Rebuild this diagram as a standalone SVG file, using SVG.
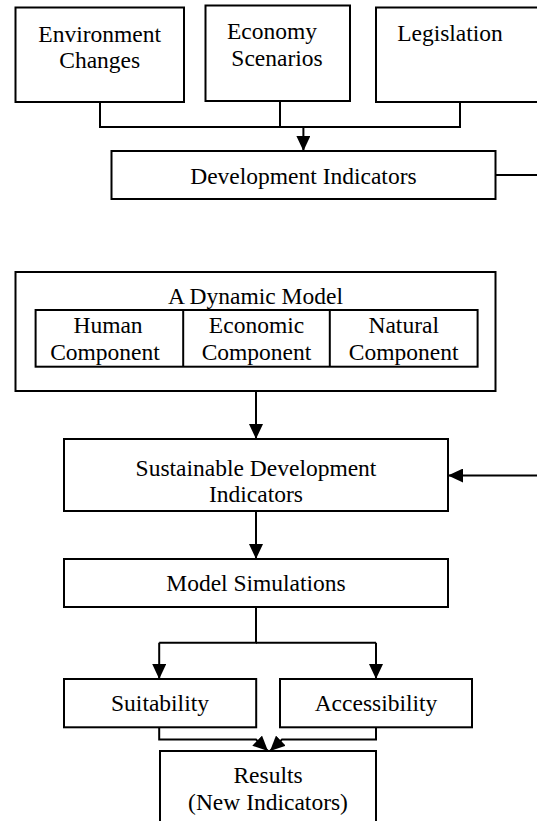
<svg xmlns="http://www.w3.org/2000/svg" width="537" height="821" viewBox="0 0 537 821" font-family="Liberation Serif, DejaVu Serif, serif">
<defs>
<style>
.box{fill:#fff;stroke:#000;stroke-width:2}
.t{font-family:'Liberation Serif','DejaVu Serif',serif;font-size:23.5px;fill:#000;text-anchor:middle}
.c{fill:none;stroke:#000;stroke-width:2}
.a{fill:none;stroke:#000;stroke-width:2;marker-end:url(#ah)}
</style>
<marker id="ah" markerUnits="userSpaceOnUse" markerWidth="16" markerHeight="14" refX="15" refY="7" orient="auto">
<path d="M0,0 L15,7 L0,14 Z" fill="#000"/>
</marker>
</defs>
<rect width="537" height="821" fill="#fff"/>

<g id="connectors">
<path class="c" d="M100,102 V127 H460 V102"/>
<path class="c" d="M280,101 V127"/>
<path class="a" d="M303.4,127 V151"/>
<path class="a" d="M495.5,175 H545 V475.5 H448"/>
<path class="a" d="M256,391 V439"/>
<path class="a" d="M256,511 V559"/>
<path class="c" d="M256,607 V642.7 H159.2"/>
<path class="c" d="M256,642.7 H376"/>
<path class="a" d="M159.2,642.7 V679"/>
<path class="a" d="M376,642.7 V679"/>
<path class="a" d="M159.2,727.3 V739.5 H256 L268,751"/>
<path class="a" d="M376,727.3 V739.5 H282 L270,751"/>
</g>

<g id="environment">
<rect class="box" x="15.5" y="7.5" width="168.5" height="94.5"/>
<text class="t" x="99.7" y="41.7">Environment</text>
<text class="t" x="99.7" y="68.3">Changes</text>
</g>
<g id="economy">
<rect class="box" x="205.5" y="5.5" width="144.5" height="95.5"/>
<text class="t" x="272" y="39">Economy</text>
<text class="t" x="277" y="65.5">Scenarios</text>
</g>
<g id="legislation">
<rect class="box" x="376" y="7.5" width="180" height="94.5"/>
<text class="t" x="450" y="40.5">Legislation</text>
</g>
<g id="development">
<rect class="box" x="111.5" y="151" width="384" height="48"/>
<text class="t" x="303.4" y="183.5">Development Indicators</text>
</g>

<g id="dynamic-model">
<rect class="box" x="15.5" y="272" width="480" height="119"/>
<text class="t" x="255.5" y="304.3">A Dynamic Model</text>
<rect class="box" x="35.6" y="310" width="442" height="56.7"/>
<line class="c" x1="183.2" y1="310" x2="183.2" y2="366.7"/>
<line class="c" x1="329.8" y1="310" x2="329.8" y2="366.7"/>
</g>
<g id="human">
<text class="t" x="108" y="332.7">Human</text>
<text class="t" x="105" y="360">Component</text>
</g>
<g id="economic">
<text class="t" x="256.5" y="332.7">Economic</text>
<text class="t" x="256.5" y="360">Component</text>
</g>
<g id="natural">
<text class="t" x="403.7" y="332.7">Natural</text>
<text class="t" x="403.7" y="360">Component</text>
</g>

<g id="sustainable">
<rect class="box" x="64" y="439" width="384" height="72"/>
<text class="t" x="256" y="475.7">Sustainable Development</text>
<text class="t" x="256" y="501.7">Indicators</text>
</g>
<g id="simulations">
<rect class="box" x="64" y="559" width="384" height="48"/>
<text class="t" x="256" y="591">Model Simulations</text>
</g>
<g id="suitability">
<rect class="box" x="64" y="679" width="192.2" height="48.3"/>
<text class="t" x="160" y="711">Suitability</text>
</g>
<g id="accessibility">
<rect class="box" x="280" y="679" width="192" height="48.3"/>
<text class="t" x="376" y="711">Accessibility</text>
</g>
<g id="results">
<rect class="box" x="160" y="751" width="216" height="90"/>
<text class="t" x="268" y="783.3">Results</text>
<text class="t" x="268" y="810">(New Indicators)</text>
</g>
</svg>
